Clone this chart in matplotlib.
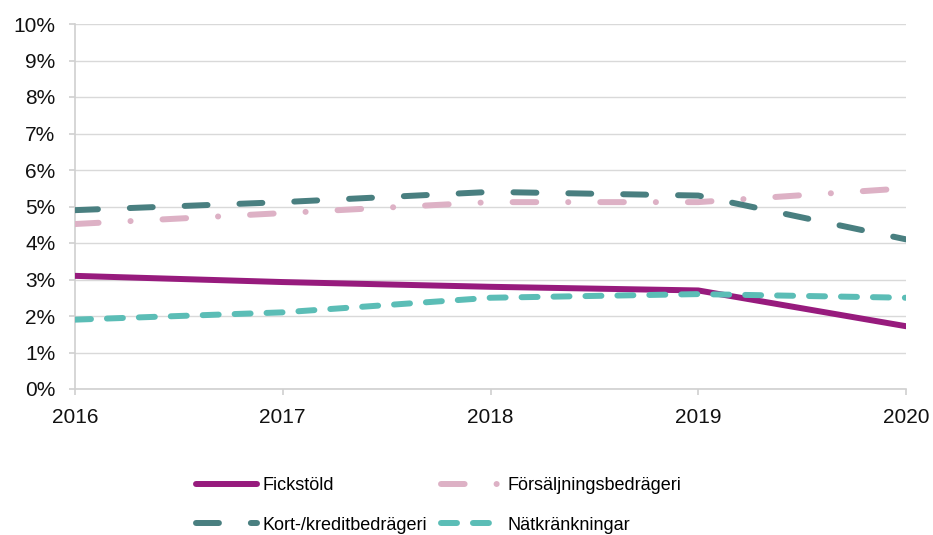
import matplotlib
matplotlib.use("Agg")
import matplotlib.pyplot as plt
from matplotlib.ticker import FuncFormatter

plt.rcParams['font.family'] = ['Liberation Sans', 'DejaVu Sans']
plt.rcParams['lines.scale_dashes'] = False

years = [2016, 2017, 2018, 2019, 2020]
fickstold = [3.1, 2.93, 2.8, 2.7, 1.72]
forsaljning = [4.52, 4.82, 5.12, 5.12, 5.5]
kort = [4.9, 5.12, 5.4, 5.3, 4.1]
natkrank = [1.9, 2.1, 2.5, 2.6, 2.5]
yticks = list(range(0, 11))

fig = plt.figure(figsize=(9.33, 5.35), dpi=100)
ax = fig.add_axes([75/933, 1-389/535, (906-75)/933, (389-24)/535])

lw = 4.3
h1, = ax.plot(years, fickstold, color='#971B7D', lw=lw, solid_capstyle='round',
              label='Fickstöld', zorder=3)
h2, = ax.plot(years, forsaljning, color='#DDB1C5', lw=lw, dash_capstyle='round',
              linestyle=(0, (17, 23, 0.1, 23)), label='Försäljningsbedrägeri', zorder=3)
h3, = ax.plot(years, kort, color='#497F80', lw=lw, dash_capstyle='round',
              linestyle=(0, (16.5, 23)), label='Kort-/kreditbedrägeri', zorder=3)
h4, = ax.plot(years, natkrank, color='#5BBDB6', lw=lw, dash_capstyle='round',
              linestyle=(0, (11.5, 11.5)), label='Nätkränkningar', zorder=3)

ax.set_xlim(2016, 2020)
ax.set_ylim(0, 10)
ax.set_xticks(years)
ax.set_yticks(yticks)
ax.yaxis.set_major_formatter(FuncFormatter(lambda v, p: f"{int(v)}%"))
ax.grid(axis='y', color='#D9D9D9', lw=1)
ax.set_axisbelow(True)
for s in ['top', 'right']:
    ax.spines[s].set_visible(False)
for s in ['left', 'bottom']:
    ax.spines[s].set_color('#D0D0D0')
    ax.spines[s].set_linewidth(1.2)
ax.tick_params(axis='both', colors='#D0D0D0', labelcolor='#111111',
               labelsize=15, length=4, width=1.2)
ax.tick_params(axis='x', pad=10)
ax.tick_params(axis='y', pad=10)

handles = [h1, h3, h2, h4]
fig.legend(handles, [h.get_label() for h in handles],
           loc='upper left', bbox_to_anchor=(196/933, 1-477/535), ncol=2,
           frameon=False, fontsize=13, handlelength=3.4, handletextpad=0.28,
           columnspacing=0.78, labelspacing=1.26, borderaxespad=0, borderpad=0)

fig.savefig('out.png', dpi=100)
